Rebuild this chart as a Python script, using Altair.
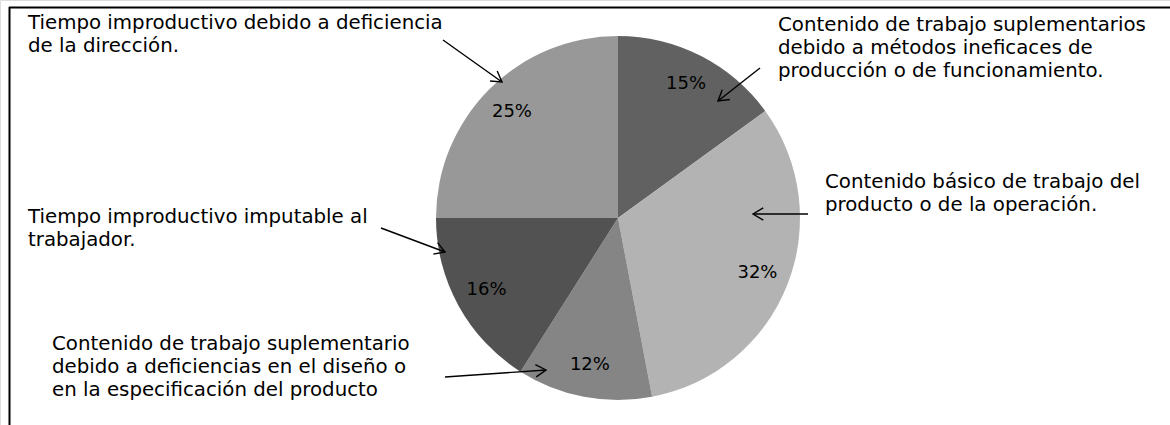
import math
import altair as alt
import pandas as pd

# ---- data ----
categories = [
    "Contenido de trabajo suplementarios (métodos)",
    "Contenido básico de trabajo",
    "Contenido de trabajo suplementario (diseño)",
    "Tiempo improductivo imputable al trabajador",
    "Tiempo improductivo debido a la dirección",
]
values = [15, 32, 12, 16, 25]
pct_labels = ["15%", "32%", "12%", "16%", "25%"]
colors = ["#616161", "#b3b3b3", "#858585", "#525252", "#989898"]

ann_direccion = ["Tiempo improductivo debido a deficiencia", "de la dirección."]
ann_metodos = ["Contenido de trabajo suplementarios",
               "debido a métodos ineficaces de",
               "producción o de funcionamiento."]
ann_basico = ["Contenido básico de trabajo del", "producto o de la operación."]
ann_trabajador = ["Tiempo improductivo imputable al", "trabajador."]
ann_diseno = ["Contenido de trabajo suplementario",
              "debido a deficiencias en el diseño o",
              "en la especificación del producto"]

df = pd.DataFrame({"cat": categories, "value": values, "pct": pct_labels,
                   "idx": list(range(len(values)))})

W, H = 1170, 425
CX, CY, R = 618, 218, 182
FONT = "DejaVu Sans"

base = alt.Chart(df).encode(
    theta=alt.Theta("value:Q", stack=True),
    order=alt.Order("idx:Q"),
    color=alt.Color("cat:N", scale=alt.Scale(domain=categories, range=colors), legend=None),
)
pie = base.mark_arc(outerRadius=R, stroke=None).encode(x=alt.value(CX), y=alt.value(CY))
labels = base.mark_text(radius=150, font=FONT, fontSize=18, color="#000000",
                        align="center", baseline="middle").encode(
    x=alt.value(CX), y=alt.value(CY), text="pct:N", color=alt.value("#000000"))

dummy = pd.DataFrame({"a": [0]})

def note(lines, x, y):
    return alt.Chart(dummy).mark_text(text=lines, font=FONT, fontSize=19.8, lineHeight=23,
                                      align="left", baseline="alphabetic", color="#000000").encode(
        x=alt.value(x), y=alt.value(y))

def arrow(x1, y1, x2, y2):
    ang = math.degrees(math.atan2(y2 - y1, x2 - x1)) % 360
    line = alt.Chart(dummy).mark_rule(color="#000000", strokeWidth=1.4).encode(
        x=alt.value(x1), y=alt.value(y1), x2=alt.value(x2), y2=alt.value(y2))
    head = alt.Chart(dummy).mark_point(
        shape="M -1 -0.6 L 0 0 L -1 0.6", filled=False, color="#000000",
        strokeWidth=1.4, size=420, angle=ang, opacity=1).encode(
        x=alt.value(x2), y=alt.value(y2))
    return line + head

border_top = alt.Chart(dummy).mark_rule(color="#000000", strokeWidth=2).encode(
    x=alt.value(9), x2=alt.value(W), y=alt.value(7.5))
border_left = alt.Chart(dummy).mark_rule(color="#000000", strokeWidth=2).encode(
    x=alt.value(9.5), y=alt.value(7), y2=alt.value(H))

chart = alt.layer(
    pie, labels,
    note(ann_direccion, 28, 29),
    note(ann_metodos, 778, 31),
    note(ann_basico, 825, 188),
    note(ann_trabajador, 28, 223),
    note(ann_diseno, 52, 350),
    arrow(443, 40, 502, 82),
    arrow(760, 68, 718, 101),
    arrow(808, 214, 753, 214),
    arrow(381, 228, 445, 252),
    arrow(445, 377, 546, 370),
    border_top, border_left,
).properties(
    width=W, height=H, padding=0, autosize=alt.AutoSizeParams(type="none"),
).configure_view(stroke=None).configure(background="#ffffff")

chart.save("out.html", embed_options={"renderer": "svg", "actions": False})
